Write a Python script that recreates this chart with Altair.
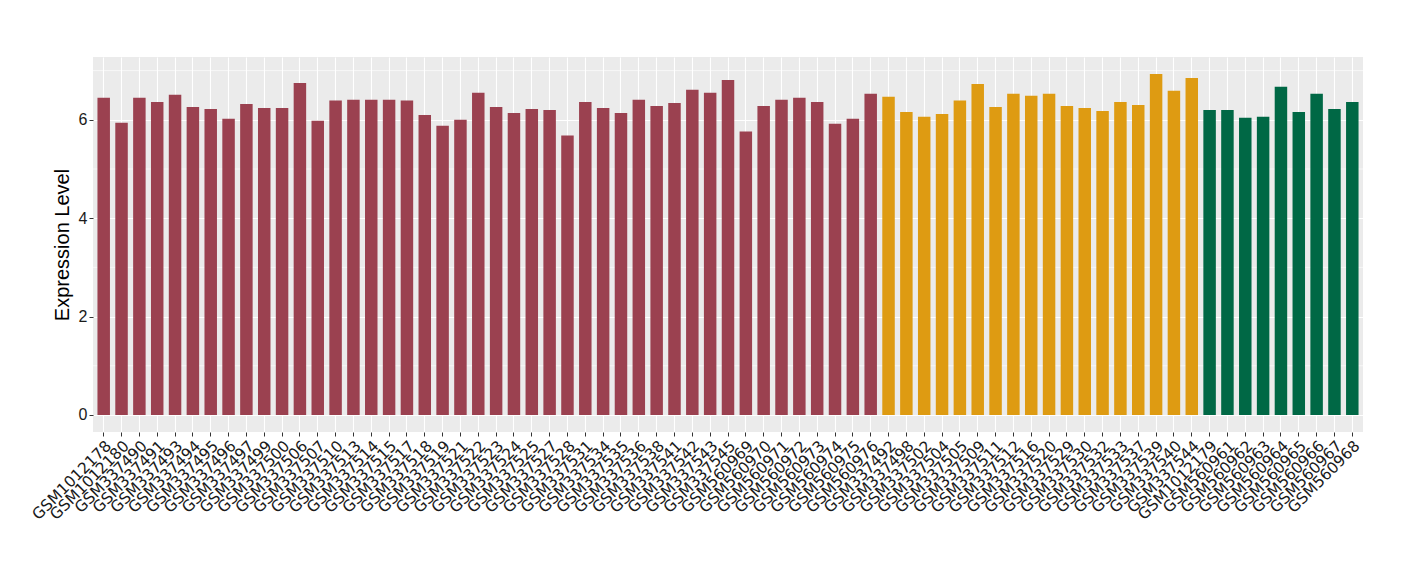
import altair as alt
import pandas as pd

red_samples = ["GSM1012178", "GSM1012180", "GSM337490", "GSM337491", "GSM337493", "GSM337494",
               "GSM337495", "GSM337496", "GSM337497", "GSM337499", "GSM337500", "GSM337506",
               "GSM337507", "GSM337510", "GSM337513", "GSM337514", "GSM337515", "GSM337517",
               "GSM337518", "GSM337519", "GSM337521", "GSM337522", "GSM337523", "GSM337524",
               "GSM337525", "GSM337527", "GSM337528", "GSM337531", "GSM337534", "GSM337535",
               "GSM337536", "GSM337538", "GSM337541", "GSM337542", "GSM337543", "GSM337545",
               "GSM560969", "GSM560970", "GSM560971", "GSM560972", "GSM560973", "GSM560974",
               "GSM560975", "GSM560976"]
red_values = [6.45, 5.94, 6.45, 6.36, 6.51, 6.26, 6.22, 6.02, 6.32, 6.24, 6.24, 6.75,
              5.98, 6.39, 6.41, 6.41, 6.41, 6.39, 6.10, 5.88, 6.00, 6.55, 6.26, 6.14,
              6.22, 6.20, 5.68, 6.36, 6.24, 6.14, 6.41, 6.28, 6.34, 6.61, 6.55, 6.81,
              5.76, 6.28, 6.41, 6.45, 6.36, 5.92, 6.02, 6.53]

orange_samples = ["GSM337492", "GSM337498", "GSM337502", "GSM337504", "GSM337505", "GSM337509",
                  "GSM337511", "GSM337512", "GSM337516", "GSM337520", "GSM337529", "GSM337530",
                  "GSM337532", "GSM337533", "GSM337537", "GSM337539", "GSM337540", "GSM337544"]
orange_values = [6.47, 6.16, 6.06, 6.12, 6.39, 6.73, 6.26, 6.53, 6.49, 6.53, 6.28, 6.24,
                 6.18, 6.36, 6.30, 6.93, 6.59, 6.85]

green_samples = ["GSM1012179", "GSM560961", "GSM560962", "GSM560963", "GSM560964", "GSM560965",
                 "GSM560966", "GSM560967", "GSM560968"]
green_values = [6.20, 6.20, 6.04, 6.06, 6.67, 6.16, 6.53, 6.22, 6.36]

group_names = ["group1", "group2", "group3"]
group_colors = ["#9B4150", "#DE9B12", "#006845"]

y_ticks = [0, 2, 4, 6]
y_minor = [1, 3, 5, 7]
y_domain = [-0.3465, 7.2765]

rows = []
for name, samples, values in zip(group_names,
                                 [red_samples, orange_samples, green_samples],
                                 [red_values, orange_values, green_values]):
    for s, v in zip(samples, values):
        rows.append({"sample": s, "value": v, "group": name})
df = pd.DataFrame(rows)
order = red_samples + orange_samples + green_samples

yscale = alt.Scale(domain=y_domain, nice=False, zero=False)

minor = alt.Chart(pd.DataFrame({"v": y_minor})).mark_rule(
    color="white", strokeWidth=0.6
).encode(y=alt.Y("v:Q", scale=yscale))

bars = alt.Chart(df).mark_bar().encode(
    x=alt.X("sample:N", sort=order,
            scale=alt.Scale(paddingInner=0.3, paddingOuter=0.25),
            axis=alt.Axis(title=None, labelAngle=-45, labelFont="DejaVu Sans",
                          labelFontSize=15.5, labelColor="#1a1a1a", labelPadding=2,
                          tickSize=4, tickColor="#333333", domain=False,
                          grid=True, gridColor="white", gridWidth=1.1,
                          bandPosition=0.5, labelOverlap=False)),
    y=alt.Y("value:Q", scale=yscale,
            axis=alt.Axis(title="Expression Level", values=y_ticks,
                          titleFont="Liberation Sans", titleFontSize=20,
                          titleFontWeight="normal", titleColor="black",
                          titlePadding=6,
                          labelFont="Liberation Sans", labelFontSize=16,
                          labelColor="#1a1a1a", labelPadding=2,
                          tickSize=4, tickColor="#333333", domain=False,
                          grid=True, gridColor="white", gridWidth=1.2)),
    color=alt.Color("group:N", scale=alt.Scale(domain=group_names, range=group_colors),
                    legend=None),
)

chart = alt.layer(minor, bars).properties(
    width=1270, height=375,
    autosize=alt.AutoSizeParams(type="none"),
    padding={"left": 85, "top": 49, "right": 49, "bottom": 140},
    background="white",
).configure_view(fill="#EBEBEB", stroke=None)

chart.save("out.html", embed_options={"renderer": "svg", "actions": False})
